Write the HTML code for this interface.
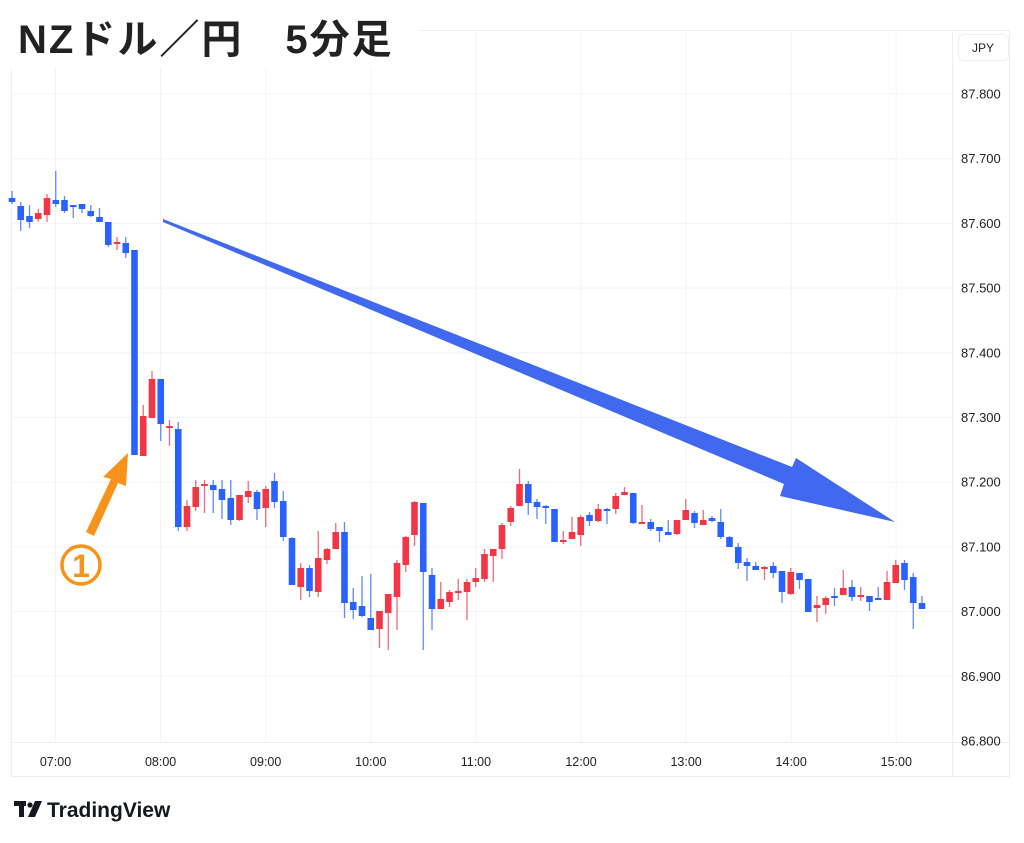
<!DOCTYPE html>
<html><head><meta charset="utf-8"><style>
html,body{margin:0;padding:0;background:#fff;width:1024px;height:843px;overflow:hidden}
svg{display:block}
</style></head><body>
<svg id="s" width="1024" height="843" xmlns="http://www.w3.org/2000/svg" font-family="Liberation Sans, sans-serif">
<rect width="1024" height="843" fill="#fff"/>
<g stroke="#f0f3fa" stroke-width="1" id="grid"></g>
<rect x="11.5" y="30.5" width="998" height="746" fill="none" stroke="#eceef2"/>
<line x1="11" y1="742.5" x2="1010" y2="742.5" stroke="#eceef2"/>
<line x1="952.5" y1="30" x2="952.5" y2="777" stroke="#eceef2"/>
<rect x="958.5" y="34.5" width="50" height="26" rx="5" fill="#fff" stroke="#eceef2"/>
<text x="983" y="52" font-size="12" fill="#222" text-anchor="middle">JPY</text>
<g id="plabels" font-size="13" fill="#222"></g>
<g id="tlabels" font-size="12.5" fill="#222" text-anchor="middle"></g>
<g id="candles"></g>
<polygon points="163,219 792,467 796,458 895,522 780,496 784,484 163,222" fill="#4169f0"/>
<polygon points="86,532 111,479 103,477 128,453 126,486 118,483 94,536" fill="#f7931a"/>
<circle cx="81" cy="565" r="19" fill="none" stroke="#f7931a" stroke-width="3.5"/>
<text x="81" y="577" font-size="32" font-weight="bold" fill="#f7931a" text-anchor="middle">1</text>
<rect x="0" y="0" width="420" height="68" fill="#fff"/>
<text x="18" y="53" font-size="40" font-weight="bold" fill="#222" letter-spacing="2" font-family="Liberation Sans, Noto Sans CJK JP, sans-serif">NZドル／円　5分足</text>
<g fill="#131722"><rect x="14" y="801" width="12" height="5"/><rect x="19" y="801" width="5" height="16"/><circle cx="30" cy="805" r="2.6"/><polygon points="35,801 42,801 35,817 28,817"/></g>
<text x="47" y="817" font-size="21" font-weight="bold" fill="#131722">TradingView</text>
</svg>
<script>
var ns="http://www.w3.org/2000/svg";
function el(p,t,a,txt){var e=document.createElementNS(ns,t);for(var k in a)e.setAttribute(k,a[k]);if(txt)e.textContent=txt;document.getElementById(p).appendChild(e);}
var prices=["87.800","87.700","87.600","87.500","87.400","87.300","87.200","87.100","87.000","86.900","86.800"];
for(var i=0;i<prices.length;i++){var y=94+i*64.7;if(i<10)el("grid","line",{x1:11,x2:952,y1:y,y2:y});el("plabels","text",{x:961,y:y+4.5},prices[i]);}
var times=["07:00","08:00","09:00","10:00","11:00","12:00","13:00","14:00","15:00"];
for(var i=0;i<times.length;i++){var x=55.5+i*105.1;el("grid","line",{x1:x,x2:x,y1:31,y2:742});el("tlabels","text",{x:x,y:766},times[i]);}
var c=[[198,202,191,204,0],[206,220,202,231,0],[216,222,205,228,0],[213,219,209,222,1],[198,215,194,222,1],[200,204,171,207,0],[200,211,196,213,0],[205,207,205,218,0],[204,209,204,213,0],[211,216,205,217,0],[217,222,208,222,0],[222,245,222,247,0],[242,244,237,250,1],[243,253,237,258,0],[250,455,250,455,0],[416,456,405,456,1],[379,418,371,418,1],[379,424,379,441,0],[426,427,420,446,1],[429,527,422,531,0],[506,527,500,531,1],[487,507,480,511,1],[484,485,480,513,1],[485,490,480,513,0],[489,500,480,519,0],[498,520,480,525,0],[495,520,495,521,1],[491,497,481,503,1],[492,509,490,520,0],[489,508,486,527,1],[481,502,473,508,0],[501,537,491,541,0],[538,585,537,585,0],[568,587,563,600,1],[568,591,565,597,0],[558,592,531,597,1],[549,560,548,564,1],[532,549,523,549,1],[532,603,522,618,0],[602,610,588,619,0],[606,616,576,617,0],[618,630,574,630,0],[611,629,611,648,1],[594,613,594,650,1],[563,597,560,630,1],[537,565,536,572,1],[502,535,501,546,1],[503,572,503,650,0],[575,609,568,630,0],[599,609,582,609,1],[592,602,590,607,1],[591,592,579,600,1],[582,592,579,620,1],[578,582,568,587,1],[554,579,549,582,1],[549,556,549,582,1],[525,549,523,559,1],[508,522,506,526,1],[484,506,469,506,1],[484,503,481,515,0],[502,507,499,519,0],[506,508,505,524,0],[509,542,509,542,0],[540,542,531,544,1],[532,539,517,539,1],[517,535,515,546,1],[515,521,512,526,0],[509,521,504,522,1],[509,510,508,524,0],[496,509,493,514,1],[492,495,487,495,1],[493,523,493,524,0],[522,524,505,524,1],[522,529,519,531,0],[527,531,527,542,0],[532,535,520,535,0],[520,534,520,535,1],[510,520,499,520,1],[513,523,511,528,0],[520,525,510,525,1],[518,521,516,522,0],[522,537,509,539,0],[537,547,536,547,0],[547,563,543,569,0],[562,566,558,581,0],[566,570,562,570,0],[567,568,566,580,1],[566,573,562,578,0],[571,592,571,603,0],[572,594,568,595,1],[573,580,573,589,0],[579,612,579,612,0],[605,608,596,622,1],[598,605,596,614,1],[596,597,588,606,0],[588,595,570,595,1],[587,597,580,601,0],[595,596,587,601,1],[596,602,596,611,0],[598,599,587,600,0],[582,600,571,600,1],[565,583,560,583,1],[563,580,560,590,0],[577,603,573,629,0],[603,609,596,609,0]];
for(var i=0;i<c.length;i++){var d=c[i],x=12+8.75*i,col=d[4]?"#f23645":"#2962ff";
el("candles","line",{x1:x,x2:x,y1:d[2],y2:d[3],stroke:col,"stroke-width":1.3,opacity:0.75});
el("candles","rect",{x:x-3.3,y:d[0],width:6.6,height:Math.max(2,d[1]-d[0]),fill:col});}
</script>
</body></html>
